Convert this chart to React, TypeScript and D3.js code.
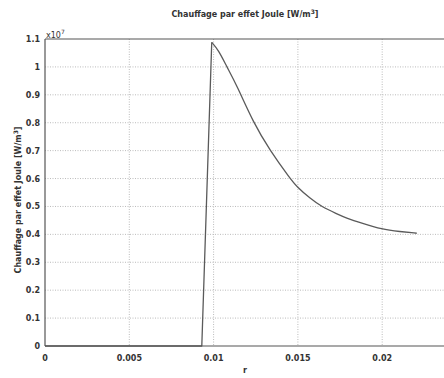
import React from "react";
import * as d3 from "d3";

const rValues = [0, 0.0093, 0.00989, 0.01028, 0.01078, 0.01137, 0.01236, 0.01335, 0.01453, 0.01493, 0.01572, 0.01641, 0.0173, 0.01789, 0.0188, 0.01997, 0.02106, 0.02205];
const qValues = [0, 0, 1.088, 1.061, 1.001, 0.935, 0.8, 0.7, 0.601, 0.571, 0.529, 0.499, 0.474, 0.458, 0.44, 0.418, 0.41, 0.404];
const xTicks = [0, 0.005, 0.01, 0.015, 0.02];
const xTickLabels = ["0", "0.005", "0.01", "0.015", "0.02"];
const yTicks = [0, 0.1, 0.2, 0.3, 0.4, 0.5, 0.6, 0.7, 0.8, 0.9, 1, 1.1];
const yTickLabels = ["0", "0.1", "0.2", "0.3", "0.4", "0.5", "0.6", "0.7", "0.8", "0.9", "1", "1.1"];

const W = 444, H = 378;
const left = 45, top = 39, bottom = 346;
const font = "'DejaVu Sans', sans-serif";

export default function App() {
  const x = d3.scaleLinear().domain([0, 0.025]).range([left, left + 0.025 * 16860]);
  const y = d3.scaleLinear().domain([0, 1.1]).range([bottom, top]);
  const pts = rValues.map((r, i) => [r, qValues[i]] as [number, number]);
  const rise = d3.line<[number, number]>().x(d => x(d[0])).y(d => y(d[1]));
  const decay = d3.line<[number, number]>().x(d => x(d[0])).y(d => y(d[1])).curve(d3.curveBasis);
  const right = x(0.025);
  return (
    <svg width={W} height={H} style={{ position: "absolute", left: 0, top: 0, background: "#fff" }} fontFamily={font}>
      <rect x={0} y={0} width={W} height={H} fill="#fff" />
      {xTicks.slice(1).map(t => (
        <line key={"gx" + t} x1={x(t)} x2={x(t)} y1={top} y2={bottom} stroke="#bbb" strokeWidth={1} strokeDasharray="1,1.5" />
      ))}
      {yTicks.slice(1, -1).map(t => (
        <line key={"gy" + t} x1={left} x2={right} y1={y(t)} y2={y(t)} stroke="#bbb" strokeWidth={1} strokeDasharray="1,1.5" />
      ))}
      <path d={rise(pts.slice(0, 3)) || ""} fill="none" stroke="#5a5a5a" strokeWidth={1.3} strokeLinejoin="round" />
      <path d={decay(pts.slice(2)) || ""} fill="none" stroke="#5a5a5a" strokeWidth={1.3} />
      <line x1={left} x2={right} y1={top} y2={top} stroke="#555" strokeWidth={1.2} />
      <line x1={left} x2={right} y1={bottom} y2={bottom} stroke="#555" strokeWidth={1.2} />
      <line x1={left} x2={left} y1={top} y2={bottom} stroke="#555" strokeWidth={1.2} />
      {xTicks.map((t, i) => (
        <text key={"xt" + t} x={x(t)} y={bottom + 15} textAnchor="middle" fontSize={8} fontWeight="bold" fill="#333">{xTickLabels[i]}</text>
      ))}
      {yTicks.map((t, i) => (
        <text key={"yt" + t} x={left - 5} y={y(t) + 3} textAnchor="end" fontSize={8} fontWeight="bold" fill="#333">{yTickLabels[i]}</text>
      ))}
      <text x={left + 1} y={top - 1} fontSize={8} fill="#333">x10<tspan dy={-4} fontSize={6}>7</tspan></text>
      <text x={245} y={17} textAnchor="middle" fontSize={8} fontWeight="bold" fill="#333">Chauffage par effet Joule [W/m<tspan dy={-3} fontSize={6}>3</tspan><tspan dy={3}>]</tspan></text>
      <text x={245} y={373} textAnchor="middle" fontSize={8} fontWeight="bold" fill="#333">r</text>
      <text transform={`translate(21,200) rotate(-90)`} textAnchor="middle" fontSize={8} fontWeight="bold" fill="#333">Chauffage par effet Joule [W/m<tspan dy={-3} fontSize={6}>3</tspan><tspan dy={3}>]</tspan></text>
    </svg>
  );
}
